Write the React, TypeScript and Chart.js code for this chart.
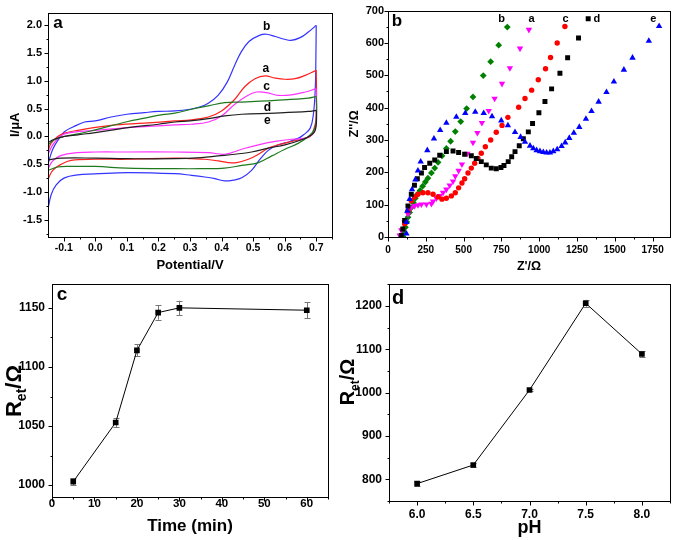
import React, { useEffect, useRef } from "react";
import { Chart, registerables } from "chart.js";

Chart.register(...registerables);

const FONT = '"Liberation Sans", Arial, Helvetica, sans-serif';
type P = [number, number];

// ---------------- Panel a: cyclic voltammograms ----------------
const cvXTicks = [-0.1, 0, 0.1, 0.2, 0.3, 0.4, 0.5, 0.6, 0.7];
const cvYTicks = [-1.5, -1.0, -0.5, 0, 0.5, 1.0, 1.5, 2.0];

const cvBlueUp: P[] = [[-0.15,-0.50],[-0.135,-0.23],[-0.114,-0.03],[-0.098,0.085],[-0.071,0.17],[-0.034,0.26],[0.0,0.28],[0.05,0.35],[0.1,0.40],[0.156,0.43],[0.2,0.45],[0.252,0.46],[0.30,0.49],[0.33,0.53],[0.358,0.60],[0.389,0.74],[0.417,0.97],[0.44,1.26],[0.461,1.51],[0.487,1.71],[0.52,1.82],[0.543,1.84],[0.57,1.80],[0.60,1.75],[0.62,1.73],[0.649,1.78],[0.675,1.88],[0.70,2.0]];
const cvBlueDown: P[] = [[0.70,2.0],[0.699,1.45],[0.697,0.87],[0.691,0.40],[0.681,0.15],[0.66,0.03],[0.644,-0.03],[0.617,-0.09],[0.58,-0.15],[0.548,-0.25],[0.522,-0.41],[0.495,-0.61],[0.464,-0.745],[0.437,-0.786],[0.41,-0.80],[0.379,-0.76],[0.347,-0.73],[0.305,-0.70],[0.252,-0.67],[0.103,-0.65],[-0.003,-0.675],[-0.056,-0.69],[-0.098,-0.745],[-0.124,-0.87],[-0.14,-1.05],[-0.151,-1.34]];

const cvRedUp: P[] = [[-0.15,-0.26],[-0.14,-0.12],[-0.119,0.0],[-0.098,0.06],[-0.056,0.11],[0.05,0.20],[0.156,0.24],[0.252,0.28],[0.305,0.30],[0.358,0.35],[0.40,0.46],[0.442,0.67],[0.474,0.90],[0.506,1.04],[0.538,1.09],[0.57,1.05],[0.601,1.03],[0.633,1.04],[0.665,1.10],[0.70,1.19]];
const cvRedDown: P[] = [[0.70,1.19],[0.701,0.69],[0.699,0.29],[0.691,0.11],[0.681,0.0],[0.654,-0.05],[0.622,-0.09],[0.58,-0.15],[0.548,-0.21],[0.517,-0.32],[0.485,-0.41],[0.448,-0.47],[0.421,-0.47],[0.389,-0.44],[0.347,-0.41],[0.305,-0.40],[0.252,-0.39],[0.1,-0.41],[0.0,-0.41],[-0.077,-0.43],[-0.108,-0.50],[-0.135,-0.61],[-0.15,-0.77]];

const cvMagentaUp: P[] = [[-0.15,-0.32],[-0.135,-0.15],[-0.115,-0.02],[-0.095,0.05],[-0.05,0.09],[0.0,0.11],[0.1,0.16],[0.2,0.19],[0.252,0.21],[0.305,0.22],[0.358,0.26],[0.40,0.37],[0.442,0.58],[0.48,0.73],[0.511,0.80],[0.543,0.79],[0.58,0.74],[0.622,0.75],[0.665,0.80],[0.70,0.86]];
const cvMagentaDown: P[] = [[0.70,0.86],[0.701,0.40],[0.697,0.15],[0.685,0.02],[0.655,-0.04],[0.622,-0.05],[0.57,-0.09],[0.517,-0.15],[0.464,-0.23],[0.41,-0.32],[0.358,-0.29],[0.252,-0.28],[0.1,-0.28],[0.0,-0.28],[-0.056,-0.29],[-0.108,-0.34],[-0.135,-0.44],[-0.15,-0.58]];

const cvGreenUp: P[] = [[-0.15,-0.15],[-0.13,-0.06],[-0.098,0.0],[-0.05,0.05],[0.0,0.12],[0.103,0.27],[0.156,0.33],[0.209,0.39],[0.252,0.42],[0.305,0.49],[0.358,0.55],[0.41,0.61],[0.464,0.62],[0.57,0.65],[0.675,0.69],[0.70,0.72]];
const cvGreenDown: P[] = [[0.70,0.72],[0.701,0.40],[0.695,0.14],[0.675,0.0],[0.644,-0.12],[0.601,-0.23],[0.559,-0.35],[0.517,-0.47],[0.464,-0.52],[0.41,-0.57],[0.336,-0.58],[0.252,-0.58],[0.1,-0.57],[0.0,-0.54],[-0.077,-0.54],[-0.119,-0.55],[-0.15,-0.61]];

const cvBlackUp: P[] = [[-0.15,-0.11],[-0.13,-0.05],[-0.098,0.0],[-0.056,0.03],[0.0,0.07],[0.103,0.16],[0.2,0.22],[0.252,0.26],[0.3,0.28],[0.358,0.32],[0.41,0.37],[0.464,0.40],[0.57,0.42],[0.675,0.45],[0.70,0.47]];
const cvBlackDown: P[] = [[0.70,0.47],[0.701,0.30],[0.697,0.11],[0.686,0.03],[0.654,-0.06],[0.601,-0.15],[0.548,-0.21],[0.495,-0.28],[0.442,-0.32],[0.389,-0.35],[0.336,-0.38],[0.252,-0.40],[0.1,-0.40],[0.0,-0.39],[-0.108,-0.39],[-0.15,-0.42]];

const cvCurveLabels = ["b", "a", "c", "d", "e"];
const cvCurveLabelX = [0.543, 0.54, 0.543, 0.545, 0.545];
const cvCurveLabelY = [1.98, 1.22, 0.90, 0.51, 0.28];

// ---------------- Panel b: Nyquist plots ----------------
const eisXTicks = [0, 250, 500, 750, 1000, 1250, 1500, 1750];
const eisYTicks = [0, 100, 200, 300, 400, 500, 600, 700];

const eisA: P[] = [[77,5],[88,21],[110,46],[132,71],[154,91],[176,96],[198,99],[221,101],[254,101],[287,103],[298,110],[320,120],[342,127],[364,137],[386,147],[408,160],[430,172],[445,188],[467,205],[489,225],[525,258],[562,292],[591,322],[621,353],[666,390],[705,428],[754,474],[806,522],[873,583],[932,641]];
const eisB: P[] = [[99,2],[106,15],[115,30],[124,46],[132,61],[143,76],[154,91],[168,106],[181,120],[194,132],[212,144],[229,157],[247,170],[264,182],[287,198],[309,213],[331,231],[357,251],[386,274],[414,296],[445,326],[481,357],[520,397],[562,433],[630,499],[679,542],[732,593],[789,649]];
const eisC: P[] = [[110,41],[132,81],[154,112],[176,124],[198,132],[231,137],[264,137],[298,132],[331,124],[357,117],[386,120],[419,127],[445,137],[467,152],[489,167],[507,180],[529,198],[551,213],[573,228],[595,243],[617,259],[644,279],[679,300],[716,324],[754,345],[793,370],[864,401],[906,428],[950,454],[994,486],[1042,520],[1075,555],[1119,600],[1170,651]];
const eisD: P[] = [[88,5],[98,25],[110,51],[132,96],[154,132],[175,160],[194,180],[221,198],[242,215],[276,228],[309,238],[342,253],[386,264],[430,266],[467,261],[507,256],[551,251],[584,243],[617,233],[650,223],[683,213],[716,211],[747,215],[767,221],[795,233],[818,248],[840,264],[868,282],[895,304],[928,325],[956,351],[998,384],[1038,419],[1082,458],[1137,506],[1188,554],[1260,615],[1324,675]];
const eisE: P[] = [[122,10],[122,46],[128,81],[143,117],[159,147],[181,177],[198,205],[216,233],[260,268],[304,304],[345,330],[386,353],[452,371],[511,383],[577,387],[633,383],[688,373],[749,360],[793,345],[840,324],[877,309],[906,294],[939,282],[961,274],[983,268],[1005,265],[1027,262],[1049,261],[1071,261],[1093,265],[1119,271],[1148,281],[1172,292],[1199,306],[1229,322],[1265,340],[1309,365],[1346,389],[1393,418],[1445,448],[1494,480],[1560,517],[1617,554],[1725,606],[1793,652]];

const eisLabels = ["b", "a", "c", "d", "e"];
const eisLabelX = [751, 950, 1175, 1382, 1754];
const eisLabelY = [674, 674, 674, 674, 674];

// ---------------- Panel c: Ret vs time ----------------
const timeTicks = [0, 10, 20, 30, 40, 50, 60];
const retTimeTicks = [1000, 1050, 1100, 1150];
const timeMin = [5, 15, 20, 25, 30, 60];
const retTime = [1003, 1053, 1114, 1146, 1150, 1148];
const retTimeErr = [3, 4, 5, 6, 6, 7];

// ---------------- Panel d: Ret vs pH ----------------
const phTicks = [6.0, 6.5, 7.0, 7.5, 8.0];
const retPhTicks = [800, 900, 1000, 1100, 1200];
const phValues = [6.0, 6.5, 7.0, 7.5, 8.0];
const retPh = [790, 833, 1006, 1206, 1089];
const retPhErr = [6, 4, 3, 8, 7];

// ---------------- helpers ----------------
const toXY = (pts: P[]) => pts.map(([x, y]) => ({ x, y }));

function axis(o: any) {
  return {
    type: "linear",
    position: o.isX ? "bottom" : "left",
    min: o.min,
    max: o.max,
    grid: { display: false, drawTicks: false },
    border: { display: false },
    afterBuildTicks: (s: any) => {
      s.ticks = o.ticks.map((v: number) => ({ value: v }));
    },
    afterFit: (s: any) => {
      if (o.isX) s.height = o.size;
      else s.width = o.size;
    },
    ticks: {
      color: "#000",
      autoSkip: false,
      maxRotation: 0,
      padding: o.pad,
      font: { family: FONT, size: o.fontSize, weight: "bold" },
      callback: (v: any) => Number(v).toFixed(o.digits),
    },
    title: o.title
      ? {
          display: true,
          text: o.title,
          color: "#000",
          font: { family: FONT, size: o.titleSize, weight: "bold" },
          padding: { top: o.titlePad, bottom: o.titlePad },
        }
      : { display: false },
  };
}

function minors(vals: number[], min: number, max: number) {
  const out: number[] = [];
  for (let i = 0; i < vals.length - 1; i++) out.push((vals[i] + vals[i + 1]) / 2);
  if (vals.length > 1) {
    const s = vals[1] - vals[0];
    if (vals[0] - s / 2 >= min) out.push(vals[0] - s / 2);
    if (vals[vals.length - 1] + s / 2 <= max) out.push(vals[vals.length - 1] + s / 2);
  }
  return out;
}

function framePlugin(cfg: any) {
  return {
    id: "frame",
    beforeDatasetsDraw(chart: any) {
      const { ctx, scales } = chart;
      ctx.save();
      chart.data.datasets.forEach((ds: any) => {
        if (!ds.errors) return;
        ctx.strokeStyle = "#777";
        ctx.lineWidth = 1;
        ds.data.forEach((pt: any, i: number) => {
          const e = ds.errors[i];
          const x = Math.round(scales.x.getPixelForValue(pt.x)) + 0.5;
          const y1 = scales.y.getPixelForValue(pt.y + e);
          const y2 = scales.y.getPixelForValue(pt.y - e);
          ctx.beginPath();
          ctx.moveTo(x, y1);
          ctx.lineTo(x, y2);
          ctx.moveTo(x - 3, Math.round(y1) + 0.5);
          ctx.lineTo(x + 3, Math.round(y1) + 0.5);
          ctx.moveTo(x - 3, Math.round(y2) + 0.5);
          ctx.lineTo(x + 3, Math.round(y2) + 0.5);
          ctx.stroke();
        });
      });
      ctx.restore();
    },
    afterDraw(chart: any) {
      const { ctx, chartArea: a, scales } = chart;
      const xs = scales.x;
      const ys = scales.y;
      ctx.save();
      ctx.strokeStyle = "#000";
      ctx.lineWidth = 1;
      const L = Math.round(a.left) + 0.5;
      const R = Math.round(a.right) + 0.5;
      const T = Math.round(a.top) + 0.5;
      const B = Math.round(a.bottom) + 0.5;
      ctx.strokeRect(L, T, R - L, B - T);
      ctx.beginPath();
      const xv = xs.ticks.map((t: any) => t.value);
      const yv = ys.ticks.map((t: any) => t.value);
      xv.forEach((v: number) => {
        const px = Math.round(xs.getPixelForValue(v)) + 0.5;
        ctx.moveTo(px, B);
        ctx.lineTo(px, B + cfg.majorLen);
      });
      minors(xv, xs.min, xs.max).forEach((v) => {
        const px = Math.round(xs.getPixelForValue(v)) + 0.5;
        ctx.moveTo(px, B);
        ctx.lineTo(px, B + cfg.minorLen);
      });
      yv.forEach((v: number) => {
        const py = Math.round(ys.getPixelForValue(v)) + 0.5;
        ctx.moveTo(L, py);
        ctx.lineTo(L - cfg.majorLen, py);
      });
      minors(yv, ys.min, ys.max).forEach((v) => {
        const py = Math.round(ys.getPixelForValue(v)) + 0.5;
        ctx.moveTo(L, py);
        ctx.lineTo(L - cfg.minorLen, py);
      });
      ctx.stroke();

      ctx.fillStyle = "#000";
      ctx.textAlign = "center";
      ctx.textBaseline = "middle";
      ctx.font = `bold ${cfg.letterFont}px ${FONT}`;
      ctx.fillText(cfg.letter, a.left + cfg.letterDx, a.top + cfg.letterDy);

      if (cfg.texts) {
        ctx.font = `bold ${cfg.textFont}px ${FONT}`;
        cfg.texts.forEach((t: any) => {
          ctx.fillText(t.t, xs.getPixelForValue(t.x), ys.getPixelForValue(t.y));
        });
      }

      if (cfg.yTitle) {
        const yt = cfg.yTitle;
        const mainF = `bold ${yt.size}px ${FONT}`;
        const subF = `bold ${Math.round(yt.size * 0.62)}px ${FONT}`;
        ctx.font = mainF;
        const wR = ctx.measureText(yt.main).width;
        const wRest = ctx.measureText(yt.rest).width;
        ctx.font = subF;
        const wSub = ctx.measureText(yt.sub).width;
        const total = wR + wSub + wRest;
        ctx.translate(yt.x, yt.y);
        ctx.rotate(-Math.PI / 2);
        ctx.textAlign = "left";
        ctx.textBaseline = "alphabetic";
        const base = yt.size * 0.36;
        let cx = -total / 2;
        ctx.font = mainF;
        ctx.fillText(yt.main, cx, base);
        cx += wR;
        ctx.font = subF;
        ctx.fillText(yt.sub, cx, base + yt.size * 0.22);
        cx += wSub;
        ctx.font = mainF;
        ctx.fillText(yt.rest, cx, base);
      }
      ctx.restore();
    },
  };
}

function baseOptions(padding: any, scales: any) {
  return {
    responsive: false,
    animation: false,
    layout: { padding },
    plugins: { legend: { display: false }, tooltip: { enabled: false } },
    scales,
  };
}

// ---------------- chart configs ----------------
function configA() {
  const series = [
    { up: cvBlackUp, down: cvBlackDown, color: "#202020" },
    { up: cvGreenUp, down: cvGreenDown, color: "#1f7a1f" },
    { up: cvMagentaUp, down: cvMagentaDown, color: "#ff33ff" },
    { up: cvRedUp, down: cvRedDown, color: "#ff2020" },
    { up: cvBlueUp, down: cvBlueDown, color: "#3333ff" },
  ];
  const datasets: any[] = [];
  series.forEach((s) => {
    [s.up, s.down].forEach((part) => {
      datasets.push({
        data: toXY(part),
        showLine: true,
        borderColor: s.color,
        borderWidth: 1.2,
        pointRadius: 0,
        tension: 0.4,
        fill: false,
      });
    });
  });
  return {
    type: "scatter",
    data: { datasets },
    options: baseOptions(
      { top: 5, right: 4, left: 0, bottom: 0 },
      {
        x: axis({ isX: true, min: -0.15, max: 0.75, ticks: cvXTicks, digits: 1, size: 38, pad: 5, fontSize: 10.5, title: "Potential/V", titleSize: 13, titlePad: 2 }),
        y: axis({ isX: false, min: -1.81, max: 2.23, ticks: cvYTicks, digits: 1, size: 48, pad: 6, fontSize: 11, title: "I/\u03bcA", titleSize: 13, titlePad: 7.5 }),
      }
    ),
    plugins: [
      framePlugin({
        majorLen: 4,
        minorLen: 2,
        letter: "a",
        letterFont: 17,
        letterDx: 10,
        letterDy: 11,
        textFont: 12,
        texts: cvCurveLabels.map((t, i) => ({ t, x: cvCurveLabelX[i], y: cvCurveLabelY[i] })),
      }),
    ],
  };
}

function configB() {
  const mk = (pts: P[], color: string, style: string, radius: number, rotation = 0) => ({
    data: toXY(pts),
    showLine: false,
    pointStyle: style,
    pointRadius: radius,
    pointRotation: rotation,
    backgroundColor: color,
    borderColor: color,
    borderWidth: 0,
  });
  return {
    type: "scatter",
    data: {
      datasets: [
        mk(eisE, "#0000ff", "triangle", 3.7),
        mk(eisD, "#000000", "rect", 3.5),
        mk(eisC, "#ff0000", "circle", 2.7),
        mk(eisA, "#ff00ff", "triangle", 3.7, 180),
        mk(eisB, "#008000", "rectRot", 3.4),
      ],
    },
    options: baseOptions(
      { top: 7, right: 5, left: 0, bottom: 0 },
      {
        x: axis({ isX: true, min: 0, max: 1865, ticks: eisXTicks, digits: 0, size: 38, pad: 7, fontSize: 10, title: "Z'/\u03a9", titleSize: 12.5, titlePad: 1 }),
        y: axis({ isX: false, min: 0, max: 700, ticks: eisYTicks, digits: 0, size: 52, pad: 4, fontSize: 11, title: "Z''/\u03a9", titleSize: 12.5, titlePad: 11.5 }),
      }
    ),
    plugins: [
      framePlugin({
        majorLen: 4,
        minorLen: 2,
        letter: "b",
        letterFont: 17,
        letterDx: 9,
        letterDy: 11,
        textFont: 11,
        texts: eisLabels.map((t, i) => ({ t, x: eisLabelX[i], y: eisLabelY[i] })),
      }),
    ],
  };
}

function lineErrConfig(o: any) {
  return {
    type: "scatter",
    data: {
      datasets: [
        {
          data: o.xs.map((x: number, i: number) => ({ x, y: o.ys[i] })),
          errors: o.errs,
          showLine: true,
          borderColor: "#000",
          borderWidth: 1,
          pointStyle: "rect",
          pointRadius: 4,
          backgroundColor: "#000",
          pointBorderWidth: 0,
          tension: 0,
        },
      ],
    },
    options: baseOptions(o.padding, { x: axis(o.x), y: axis(o.y) }),
    plugins: [framePlugin(o.frame)],
  };
}

function configC() {
  return lineErrConfig({
    xs: timeMin,
    ys: retTime,
    errs: retTimeErr,
    padding: { top: 4, right: 8, left: 0, bottom: 0 },
    x: { isX: true, min: 0, max: 65, ticks: timeTicks, digits: 0, size: 43, pad: 0, fontSize: 11.5, title: "Time (min)", titleSize: 17, titlePad: 3 },
    y: { isX: false, min: 990, max: 1170, ticks: retTimeTicks, digits: 0, size: 52, pad: 7, fontSize: 12, title: "" },
    frame: {
      majorLen: 4,
      minorLen: 2,
      letter: "c",
      letterFont: 19,
      letterDx: 10,
      letterDy: 11,
      yTitle: { main: "R", sub: "et", rest: "/\u03a9", size: 22, x: 13, y: 121 },
    },
  });
}

function configD() {
  return lineErrConfig({
    xs: phValues,
    ys: retPh,
    errs: retPhErr,
    padding: { top: 8, right: 5, left: 0, bottom: 0 },
    x: { isX: true, min: 5.75, max: 8.25, ticks: phTicks, digits: 1, size: 39, pad: 6, fontSize: 12, title: "pH", titleSize: 18, titlePad: 1 },
    y: { isX: false, min: 750, max: 1250, ticks: retPhTicks, digits: 0, size: 53, pad: 7, fontSize: 12, title: "" },
    frame: {
      majorLen: 4,
      minorLen: 2,
      letter: "d",
      letterFont: 20,
      letterDx: 9,
      letterDy: 14,
      yTitle: { main: "R", sub: "et", rest: "/\u03a9", size: 20, x: 11, y: 112 },
    },
  });
}

function Panel(props: { left: number; top: number; width: number; height: number; make: () => any }) {
  const ref = useRef<HTMLCanvasElement | null>(null);
  useEffect(() => {
    const chart = new Chart(ref.current as HTMLCanvasElement, props.make());
    return () => chart.destroy();
  }, []);
  return (
    <canvas
      ref={ref}
      width={props.width}
      height={props.height}
      style={{ position: "absolute", left: props.left, top: props.top, width: props.width, height: props.height }}
    />
  );
}

export default function App() {
  return (
    <div style={{ position: "fixed", left: 0, top: 0, width: 675, height: 540, background: "#fff", overflow: "hidden" }}>
      <Panel left={0} top={270} width={336} height={270} make={configC} />
      <Panel left={336} top={270} width={339} height={270} make={configD} />
      <Panel left={0} top={0} width={336} height={275} make={configA} />
      <Panel left={336} top={0} width={339} height={275} make={configB} />
    </div>
  );
}
